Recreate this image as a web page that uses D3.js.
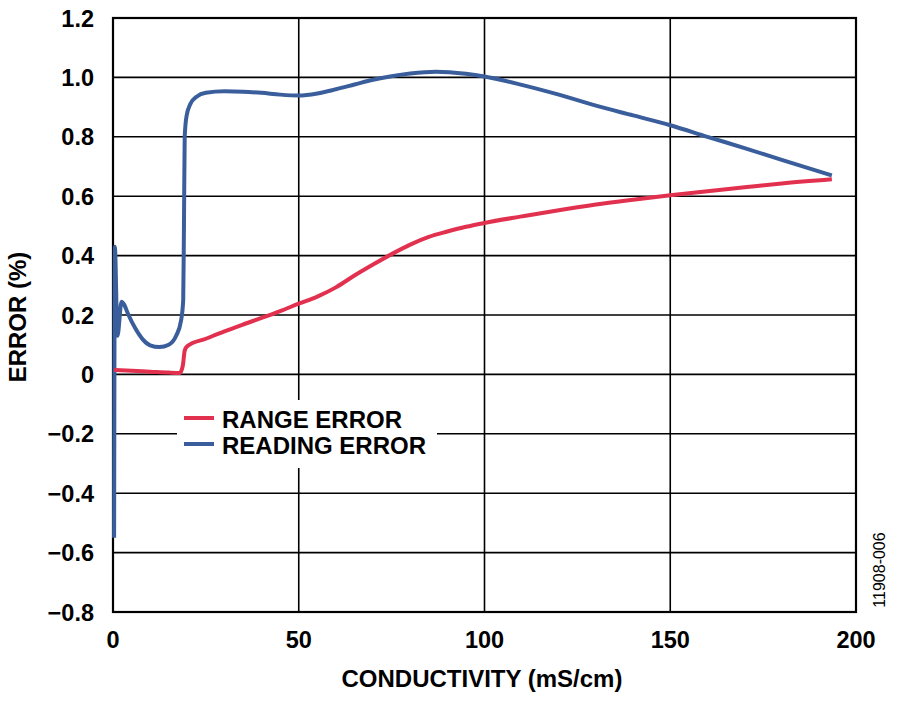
<!DOCTYPE html>
<html>
<head>
<meta charset="utf-8">
<script src="https://cdn.jsdelivr.net/npm/d3@7"></script>
<style>
  body { margin: 0; background: #fff; }
  text { font-family: "Liberation Sans", Arial, sans-serif; }
</style>
</head>
<body>
<div id="chart-area"></div>
<script>
// ---- data ----
var xTicks = [0, 50, 100, 150, 200];
var yTicks = [1.2, 1.0, 0.8, 0.6, 0.4, 0.2, 0, -0.2, -0.4, -0.6, -0.8];
var yTickLabels = ["1.2", "1.0", "0.8", "0.6", "0.4", "0.2", "0", "\u22120.2", "\u22120.4", "\u22120.6", "\u22120.8"];

var seriesNames = ["RANGE ERROR", "READING ERROR"];

var rangeX = [0.3, 5, 10, 15, 18, 18.8, 19.3, 20, 25, 30, 35, 40, 45, 50, 55, 60, 65, 70, 75, 80, 85, 90, 95, 100, 110, 120, 130, 140, 150, 160, 170, 180, 193.5];
var rangeY = [0.015, 0.012, 0.009, 0.006, 0.005, 0.03, 0.08, 0.095, 0.12, 0.145, 0.168, 0.19, 0.213, 0.238, 0.262, 0.293, 0.333, 0.37, 0.405, 0.437, 0.463, 0.481, 0.497, 0.51, 0.532, 0.553, 0.572, 0.588, 0.603, 0.617, 0.63, 0.643, 0.657];

var readingX = [0.3, 0.5, 1.2, 2.3, 3, 4, 6, 8, 10, 12.5, 15, 17, 18.3, 18.9, 19.1, 19.3, 19.8, 20.8, 22.5, 25, 30, 35, 40, 45, 50, 55, 60, 65, 70, 75, 80, 87, 95, 100, 110, 120, 130, 140, 150, 160, 170, 180, 193.5];
var readingY = [-0.55, 0.43, 0.13, 0.245, 0.235, 0.205, 0.155, 0.118, 0.098, 0.092, 0.1, 0.13, 0.18, 0.25, 0.5, 0.8, 0.87, 0.91, 0.935, 0.948, 0.953, 0.952, 0.948, 0.942, 0.939, 0.946, 0.96, 0.976, 0.992, 1.004, 1.013, 1.019, 1.012, 1.003, 0.975, 0.942, 0.905, 0.872, 0.839, 0.8, 0.762, 0.722, 0.67];

var colors = ["#e2304f", "#3a5e9b"];

// ---- layout ----
var margin = { left: 113, right: 44, top: 18, bottom: 90 };
var width = 900 - margin.left - margin.right;
var height = 702 - margin.top - margin.bottom;

var svg = d3.select("#chart-area")
        .append("svg")
                .attr("width", 900)
                .attr("height", 702)
                .append("g")
                        .attr("transform", "translate(" + margin.left + "," + margin.top + ")");

var x = d3.scaleLinear().domain([0, 200]).range([0, width]);
var y = d3.scaleLinear().domain([-0.8, 1.2]).range([height, 0]);

// grid lines
svg.append("g")
        .attr("class", "x-grid")
        .selectAll("line")
        .data(xTicks.slice(1, -1))
        .enter()
        .append("line")
                .attr("x1", d => x(d)).attr("x2", d => x(d))
                .attr("y1", 0).attr("y2", height)
                .attr("stroke", "#000")
                .attr("stroke-width", 1.6);

svg.append("g")
        .attr("class", "y-grid")
        .selectAll("line")
        .data(yTicks.slice(1, -1))
        .enter()
        .append("line")
                .attr("x1", 0).attr("x2", width)
                .attr("y1", d => y(d)).attr("y2", d => y(d))
                .attr("stroke", "#000")
                .attr("stroke-width", 1.6);

// frame
svg.append("rect")
        .attr("x", 0).attr("y", 0)
        .attr("width", width).attr("height", height)
        .attr("fill", "none")
        .attr("stroke", "#000")
        .attr("stroke-width", 2.2);

// tick labels
svg.append("g")
        .attr("class", "y-labels")
        .selectAll("text")
        .data(yTicks)
        .enter()
        .append("text")
                .attr("x", -19)
                .attr("y", d => y(d) + 8.5)
                .attr("text-anchor", "end")
                .attr("font-size", "23.5px")
                .attr("font-weight", "bold")
                .text((d, i) => yTickLabels[i]);

svg.append("g")
        .attr("class", "x-labels")
        .selectAll("text")
        .data(xTicks)
        .enter()
        .append("text")
                .attr("x", d => x(d))
                .attr("y", height + 36)
                .attr("text-anchor", "middle")
                .attr("font-size", "23.5px")
                .attr("font-weight", "bold")
                .text(d => d);

// axis titles
svg.append("text")
        .attr("class", "x-axis-label")
        .attr("x", 482 - margin.left)
        .attr("y", height + 75)
        .attr("text-anchor", "middle")
        .attr("font-size", "24px")
        .attr("font-weight", "bold")
        .text("CONDUCTIVITY (mS/cm)");

svg.append("text")
        .attr("class", "y-axis-label")
        .attr("x", -(317 - margin.top))
        .attr("y", -87)
        .attr("text-anchor", "middle")
        .attr("font-size", "24px")
        .attr("font-weight", "bold")
        .attr("transform", "rotate(-90)")
        .text("ERROR (%)");

svg.append("text")
        .attr("x", -(570 - margin.top))
        .attr("y", width + 29)
        .attr("text-anchor", "middle")
        .attr("font-size", "16px")
        .attr("transform", "rotate(-90)")
        .text("11908-006");

// curves
var line = d3.line()
        .x(d => x(d[0]))
        .y(d => y(d[1]))
        .curve(d3.curveMonotoneX);

var series = [
        d3.zip(rangeX, rangeY),
        d3.zip(readingX, readingY)
];

svg.append("path")
        .datum(series[1])
        .attr("fill", "none")
        .attr("stroke", colors[1])
        .attr("stroke-width", 4)
        .attr("stroke-linejoin", "round")
        .attr("d", line);

svg.append("path")
        .datum(series[0])
        .attr("fill", "none")
        .attr("stroke", colors[0])
        .attr("stroke-width", 4)
        .attr("stroke-linejoin", "round")
        .attr("d", line);

// legend
var legend = svg.append("g")
        .attr("transform", "translate(" + (177 - margin.left) + "," + (400 - margin.top) + ")");

legend.append("rect")
        .attr("width", 260).attr("height", 68)
        .attr("fill", "#fff");

legend.selectAll("line")
        .data(seriesNames)
        .enter()
        .append("line")
                .attr("x1", 7).attr("x2", 37)
                .attr("y1", (d, i) => 18 + i * 26)
                .attr("y2", (d, i) => 18 + i * 26)
                .attr("stroke", (d, i) => colors[i])
                .attr("stroke-width", 4);

legend.selectAll("text")
        .data(seriesNames)
        .enter()
        .append("text")
                .attr("x", 45)
                .attr("y", (d, i) => 27.5 + i * 26)
                .attr("font-size", "24px")
                .attr("font-weight", "bold")
                .text(d => d);
</script>
</body>
</html>
